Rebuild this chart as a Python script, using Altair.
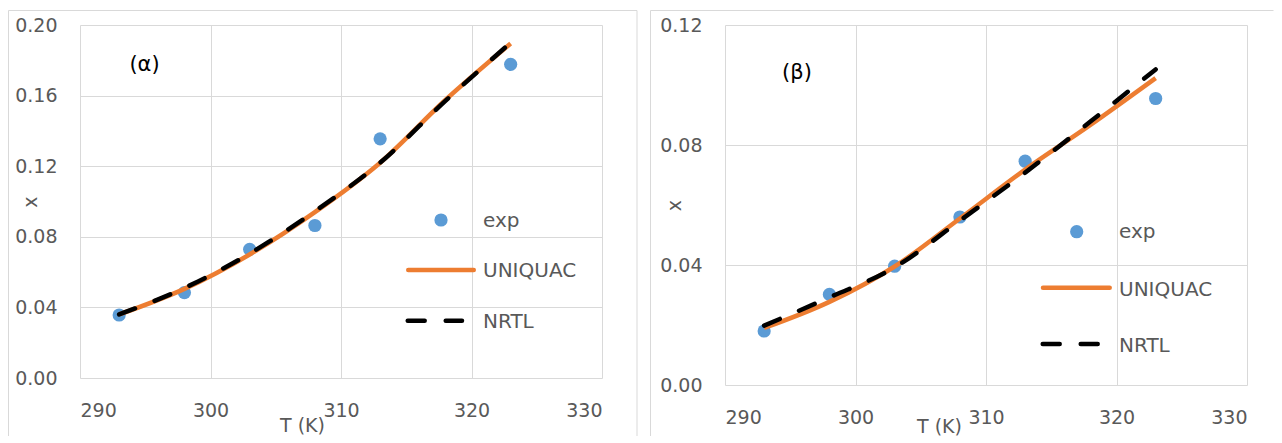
import altair as alt
import pandas as pd

# ---------------- data ----------------
T_exp = [293, 298, 303, 308, 313, 323]
T_model = [293, 298, 303, 308, 313, 318, 323]

a_exp = [0.0357, 0.0484, 0.0729, 0.0864, 0.1355, 0.1777]
a_uniquac = [0.0360, 0.0505, 0.0700, 0.0940, 0.1220, 0.1575, 0.1895]
a_nrtl = [0.0360, 0.0510, 0.0705, 0.0945, 0.1220, 0.1570, 0.1900]

b_exp = [0.0180, 0.0302, 0.0396, 0.0560, 0.0746, 0.0955]
b_uniquac = [0.0190, 0.0277, 0.0395, 0.0555, 0.0718, 0.0867, 0.1023]
b_nrtl = [0.0198, 0.0292, 0.0392, 0.0548, 0.0708, 0.0878, 0.1052]

x_ticks = [290, 300, 310, 320, 330]
a_y_ticks = [0.00, 0.04, 0.08, 0.12, 0.16, 0.20]
b_y_ticks = [0.00, 0.04, 0.08, 0.12]
series_names = ["exp", "UNIQUAC", "NRTL"]
panel_labels = ["(\u03b1)", "(\u03b2)"]
x_title = "T (K)"
y_title = "x"

# ---------------- styles ----------------
FONT = "DejaVu Sans"
GRID = "#D9D9D9"
TXT = "#595959"
BLUE = "#5B9BD5"
ORANGE = "#ED7D31"
LW = 4.5
DASH = [17, 21]

one = alt.Data(values=[{}])


def rule(x, x2, y, y2, color=GRID, width=1, dash=None, cap="butt"):
    kw = dict(color=color, strokeWidth=width, strokeCap=cap)
    if dash:
        kw["strokeDash"] = dash
    enc = dict(x=alt.value(x), y=alt.value(y))
    if x2 is not None:
        enc["x2"] = alt.value(x2)
    if y2 is not None:
        enc["y2"] = alt.value(y2)
    return alt.Chart(one).mark_rule(**kw).encode(**enc)


def text(s, x, y, size, color, baseline="alphabetic", align="left"):
    return alt.Chart(one).mark_text(
        font=FONT, fontSize=size, color=color, align=align, baseline=baseline
    ).encode(x=alt.value(x), y=alt.value(y), text=alt.value(s))


def panel(exp, uni, nrtl, yticks, ymax, w, h, g):
    xenc = alt.X(
        "T:Q",
        scale=alt.Scale(domain=[290, 330], nice=False, zero=False),
        axis=alt.Axis(values=x_ticks, format="d", title=x_title,
                      titleX=g["tx"], titleY=g["ty"], titleAlign="center",
                      titleBaseline="alphabetic"),
    )
    yenc = alt.Y(
        "v:Q",
        scale=alt.Scale(domain=[0, ymax], nice=False),
        axis=alt.Axis(values=yticks, format=".2f", title=y_title,
                      titleX=g["yx"], titleY=h / 2, titleAngle=270,
                      titleAlign="center", titleBaseline="middle"),
    )
    df_exp = pd.DataFrame({"T": T_exp, "v": exp})
    df_uni = pd.DataFrame({"T": T_model, "v": uni})
    df_nrtl = pd.DataFrame({"T": T_model, "v": nrtl})

    pts = alt.Chart(df_exp).mark_circle(size=175, color=BLUE, opacity=1).encode(x=xenc, y=yenc)
    l_uni = alt.Chart(df_uni).mark_line(color=ORANGE, strokeWidth=LW, interpolate="monotone").encode(x=xenc, y=yenc)
    l_nrtl = alt.Chart(df_nrtl).mark_line(color="black", strokeWidth=LW, strokeDash=DASH,
                                          strokeCap="round", interpolate="monotone").encode(x=xenc, y=yenc)

    layers = list(g["border"])
    layers += [pts, l_uni, l_nrtl]
    # legend
    dx, dy = g["dot"]
    layers.append(alt.Chart(one).mark_circle(size=175, color=BLUE, opacity=1)
                  .encode(x=alt.value(dx), y=alt.value(dy)))
    ux1, ux2, uy = g["uline"]
    layers.append(rule(ux1, ux2, uy, None, color=ORANGE, width=LW, cap="round"))
    nx1, nx2, ny = g["nline"]
    layers.append(rule(nx1, nx2, ny, None, color="black", width=LW, dash=DASH, cap="round"))
    lx = g["lx"]
    for name, yy in zip(series_names, g["ly"]):
        layers.append(text(name, lx, yy, 20, TXT))
    px, py = g["plabel"]
    layers.append(text(g["label"], px, py, 21, "black", baseline="middle", align="center"))

    return alt.layer(*layers).properties(width=w, height=h)


left_geom = dict(
    tx=222, ty=53.5, yx=-49.5,
    dot=(361, 195), uline=(328.25, 393.75, 245), nline=(327.7, 382, 295.7),
    lx=403, ly=[201.7, 252.3, 302.7],
    plabel=(64.5, 39.5), label=panel_labels[0],
    border=[
        rule(-71.5, None, -14.5, 411),
        rule(-71.5, 557, -14.5, None),
        rule(557, None, -14.5, 411),
    ],
)
right_geom = dict(
    tx=214, ty=47, yx=-51,
    dot=(351.7, 206.7), uline=(318, 384.7, 262.7), nline=(317.7, 373, 319),
    lx=394, ly=[213.3, 270.7, 326.7],
    plabel=(72, 48), label=panel_labels[1],
    border=[
        rule(-74.5, None, -14.5, 411),
        rule(-74.5, 548.5, -14.5, None),
    ],
)

left = panel(a_exp, a_uniquac, a_nrtl, a_y_ticks, 0.20, 522, 353, left_geom)
right = panel(b_exp, b_uniquac, b_nrtl, b_y_ticks, 0.12, 522, 360, right_geom)

chart = (
    alt.hconcat(left, right, spacing=123, bounds="flush")
    .properties(padding={"left": 0, "top": 2, "right": 0, "bottom": 0})
    .configure_view(stroke=None)
    .configure_axis(
        grid=True, gridColor=GRID, gridWidth=1, domain=False, ticks=False,
        labelFont=FONT, labelFontSize=19, labelColor=TXT, labelPadding=23,
        titleFont=FONT, titleFontSize=19, titleColor=TXT, titleFontWeight="normal",
    )
)

chart.save("out.html", embed_options={"renderer": "svg", "actions": False})
